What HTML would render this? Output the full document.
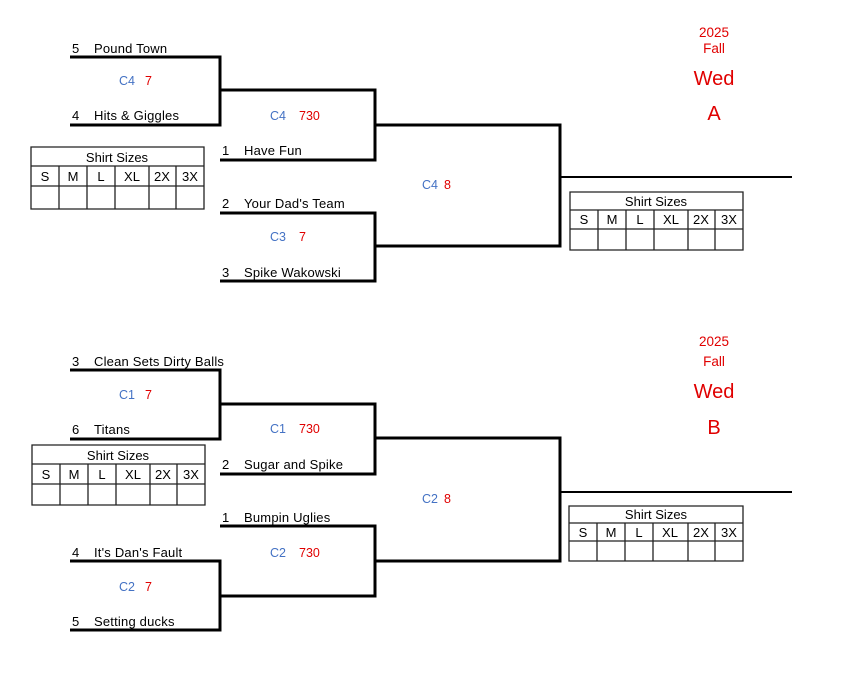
<!DOCTYPE html>
<html><head><meta charset="utf-8"><style>
html,body{margin:0;padding:0;background:#fff;}
svg{display:block;font-family:"Liberation Sans",Arial,sans-serif;}
.t{font-size:13px;fill:#000;letter-spacing:0.2px;}
.b{font-size:12.5px;fill:#4472c4;}
.r{font-size:12.5px;fill:#e00000;}
.h{font-size:13.5px;fill:#e00000;}
.big{font-size:20px;fill:#e00000;}
.k path{fill:none;stroke:#000;stroke-width:3;}
.g path{fill:none;stroke:#222;stroke-width:1.3;}
.g text{font-size:13px;fill:#000;text-anchor:middle;}
</style></head><body>
<svg width="842" height="676" viewBox="0 0 842 676">
<g class="k">
<path d="M70 57H220V125H70M220 90H375V160H220M220 213H375V281H220M375 125H560V246H375"/>
<path d="M70 370H220V439H70M220 404H375V474H220M220 526H375V596H220M70 561H220V630H70M375 438H560V561H375"/>
</g>
<path d="M560 177H792M560 492H792" stroke="#000" stroke-width="2"/>

<text class="t" x="72" y="53">5</text><text class="t" x="94" y="53">Pound Town</text>
<text class="t" x="72" y="120">4</text><text class="t" x="94" y="120">Hits &amp; Giggles</text>
<text class="t" x="222" y="155">1</text><text class="t" x="244" y="155">Have Fun</text>
<text class="t" x="222" y="208">2</text><text class="t" x="244" y="208">Your Dad's Team</text>
<text class="t" x="222" y="277">3</text><text class="t" x="244" y="277">Spike Wakowski</text>
<text class="b" x="119" y="85">C4</text><text class="r" x="145" y="85">7</text>
<text class="b" x="270" y="120">C4</text><text class="r" x="299" y="120">730</text>
<text class="b" x="270" y="241">C3</text><text class="r" x="299" y="241">7</text>
<text class="b" x="422" y="189">C4</text><text class="r" x="444" y="189">8</text>

<text class="t" x="72" y="366">3</text><text class="t" x="94" y="366">Clean Sets Dirty Balls</text>
<text class="t" x="72" y="434">6</text><text class="t" x="94" y="434">Titans</text>
<text class="t" x="222" y="469">2</text><text class="t" x="244" y="469">Sugar and Spike</text>
<text class="t" x="222" y="522">1</text><text class="t" x="244" y="522">Bumpin Uglies</text>
<text class="t" x="72" y="557">4</text><text class="t" x="94" y="557">It's Dan's Fault</text>
<text class="t" x="72" y="626">5</text><text class="t" x="94" y="626">Setting ducks</text>
<text class="b" x="119" y="399">C1</text><text class="r" x="145" y="399">7</text>
<text class="b" x="270" y="433">C1</text><text class="r" x="299" y="433">730</text>
<text class="b" x="270" y="557">C2</text><text class="r" x="299" y="557">730</text>
<text class="b" x="119" y="591">C2</text><text class="r" x="145" y="591">7</text>
<text class="b" x="422" y="503">C2</text><text class="r" x="444" y="503">8</text>

<g text-anchor="middle">
<text class="h" x="714" y="37">2025</text><text class="h" x="714" y="53">Fall</text>
<text class="big" x="714" y="85">Wed</text><text class="big" x="714" y="120">A</text>
<text class="h" x="714" y="346">2025</text><text class="h" x="714" y="366">Fall</text>
<text class="big" x="714" y="398">Wed</text><text class="big" x="714" y="434">B</text>
</g>

<g class="g">
<path d="M31 147H204V209H31ZM31 166H204M31 186H204M59 166V209M87 166V209M115 166V209M149 166V209M176 166V209"/>
<text x="117" y="162">Shirt Sizes</text>
<text x="45" y="181">S</text><text x="73" y="181">M</text><text x="101" y="181">L</text><text x="132" y="181">XL</text><text x="162" y="181">2X</text><text x="190" y="181">3X</text>
</g>
<g class="g">
<path d="M570 192H743V250H570ZM570 210H743M570 229H743M598 210V250M626 210V250M654 210V250M688 210V250M715 210V250"/>
<text x="656" y="206">Shirt Sizes</text>
<text x="584" y="224">S</text><text x="612" y="224">M</text><text x="640" y="224">L</text><text x="671" y="224">XL</text><text x="701" y="224">2X</text><text x="729" y="224">3X</text>
</g>
<g class="g">
<path d="M32 445H205V505H32ZM32 464H205M32 484H205M60 464V505M88 464V505M116 464V505M150 464V505M177 464V505"/>
<text x="118" y="460">Shirt Sizes</text>
<text x="46" y="479">S</text><text x="74" y="479">M</text><text x="102" y="479">L</text><text x="133" y="479">XL</text><text x="163" y="479">2X</text><text x="191" y="479">3X</text>
</g>
<g class="g">
<path d="M569 506H743V561H569ZM569 523H743M569 541H743M597 523V561M625 523V561M653 523V561M688 523V561M715 523V561"/>
<text x="656" y="519">Shirt Sizes</text>
<text x="583" y="537">S</text><text x="611" y="537">M</text><text x="639" y="537">L</text><text x="670" y="537">XL</text><text x="701" y="537">2X</text><text x="729" y="537">3X</text>
</g>
</svg>
</body></html>
